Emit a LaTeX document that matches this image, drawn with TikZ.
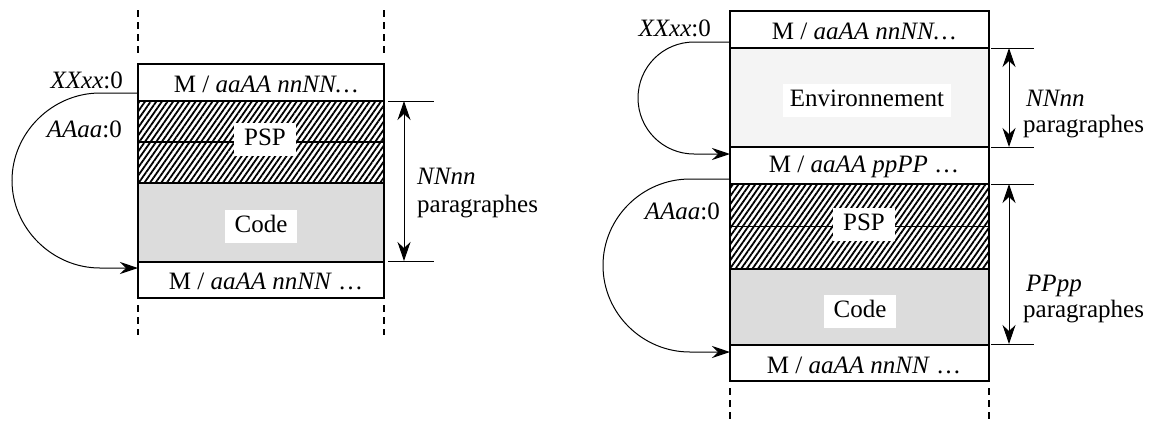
\documentclass[tikz,border=0pt]{standalone}
\usepackage{fontspec}
\setmainfont{Liberation Serif}
\usetikzlibrary{patterns.meta,arrows.meta}
\definecolor{codegray}{HTML}{DCDCDC}
\definecolor{envgray}{HTML}{F4F4F4}
\tikzset{
  region/.style={draw, line width=1.3pt, inner sep=0pt, anchor=center},
  hatch/.style={pattern={Lines[angle=55,distance=4.6pt,line width=1.8pt]}},
  tag/.style={fill=white, inner xsep=10pt, inner ysep=6pt, text height=17pt, text depth=4pt},
  txt/.style={inner sep=0pt},
  guide/.style={line width=1.2pt, dash pattern=on 7pt off 5pt},
  dimline/.style={line width=1pt},
  dimarrow/.style={line width=1pt, {Stealth[length=19pt,width=13pt,inset=6pt]}-{Stealth[length=19pt,width=13pt,inset=6pt]}},
  jump/.style={line width=1pt, -{Stealth[length=18pt,width=12pt,inset=6pt]}},
  every node/.append style={font=\fontsize{25}{30}\selectfont}
}
\begin{document}
\begin{tikzpicture}[x=1pt,y=-1pt]
\useasboundingbox (0,0) rectangle (1153,421);

% ---------------- Left diagram ----------------
\node[region, minimum width=246pt, minimum height=37pt] (Lm1) at (261,82.5) {};
\node[txt] (Lm1t) at (266,84) {M / \textit{aaAA nnNN…}};
\node[region, hatch, minimum width=246pt, minimum height=82pt] (Lpsp) at (261,142) {};
\node[region, fill=codegray, minimum width=246pt, minimum height=79pt] (Lcode) at (261,222.5) {};
\node[region, minimum width=246pt, minimum height=36pt] (Lm2) at (261,280) {};
\node[txt] (Lm2t) at (266,281) {M / \textit{aaAA nnNN} …};
\draw[line width=1.2pt] (Lpsp.west) -- (Lpsp.east);
\node[tag] (Lpspt) at (265,139) {PSP};
\node[tag] (Lcodet) at (261,226) {Code};

% guides
\coordinate (Lg1a) at (138,10);  \coordinate (Lg1b) at (138,55);
\coordinate (Lg2a) at (384,10);  \coordinate (Lg2b) at (384,55);
\coordinate (Lg3a) at (138,305); \coordinate (Lg3b) at (138,335);
\coordinate (Lg4a) at (384,305); \coordinate (Lg4b) at (384,335);
\draw[guide] (Lg1a) -- (Lg1b);
\draw[guide] (Lg2a) -- (Lg2b);
\draw[guide] (Lg3a) -- (Lg3b);
\draw[guide] (Lg4a) -- (Lg4b);

% dimension
\coordinate (Ld1a) at (388,101); \coordinate (Ld1b) at (434,101);
\coordinate (Ld2a) at (388,261); \coordinate (Ld2b) at (434,261);
\draw[dimline] (Ld1a) -- (Ld1b);
\draw[dimline] (Ld2a) -- (Ld2b);
\coordinate (Lda) at (404,101); \coordinate (Ldb) at (404,261);
\draw[dimarrow] (Lda) -- (Ldb);
\node[txt, anchor=base west] (Ln1) at (417,184) {\textit{NNnn}};
\node[txt, anchor=base west] (Ln2) at (417,212) {paragraphes};

% jump
\coordinate (Lja) at (138,93); \coordinate (Ljb) at (138,268);
\draw[jump] (Lja) -- (100,93) .. controls (52,93) and (12,133) .. (12,180.5)
  .. controls (12,228) and (52,268) .. (100,268) -- (Ljb);
\node[txt, anchor=base east] (Lx) at (123,88) {\textit{XXxx}:0};
\node[txt, anchor=base east] (La) at (122,137) {\textit{AAaa}:0};

% ---------------- Right diagram ----------------
\node[region, minimum width=259pt, minimum height=37pt] (Rm1) at (859.5,29.5) {};
\node[txt] (Rm1t) at (864,31) {M / \textit{aaAA nnNN…}};
\node[region, fill=envgray, minimum width=259pt, minimum height=99pt] (Renv) at (859.5,97.5) {};
\node[tag, inner xsep=7pt] (Renvt) at (867,100) {Environnement};
\node[region, minimum width=259pt, minimum height=37pt] (Rm2) at (859.5,165.5) {};
\node[txt] (Rm2t) at (864,167) {M / \textit{aaAA ppPP} …};
\node[region, hatch, minimum width=259pt, minimum height=85pt] (Rpsp) at (859.5,226.5) {};
\draw[line width=1.2pt] (Rpsp.west) -- (Rpsp.east);
\node[tag] (Rpspt) at (864,224) {PSP};
\node[region, fill=codegray, minimum width=259pt, minimum height=76pt] (Rcode) at (859.5,307) {};
\node[tag] (Rcodet) at (860,311) {Code};
\node[region, minimum width=259pt, minimum height=36pt] (Rm3) at (859.5,363) {};
\node[txt] (Rm3t) at (864,365) {M / \textit{aaAA nnNN} …};

% guides
\coordinate (Rg1a) at (730,388); \coordinate (Rg1b) at (730,421);
\coordinate (Rg2a) at (989,388); \coordinate (Rg2b) at (989,421);
\draw[guide] (Rg1a) -- (Rg1b);
\draw[guide] (Rg2a) -- (Rg2b);

% dimensions
\coordinate (Rd1a) at (991,48);  \coordinate (Rd1b) at (1034,48);
\coordinate (Rd2a) at (991,147); \coordinate (Rd2b) at (1034,147);
\coordinate (Rd3a) at (991,184); \coordinate (Rd3b) at (1034,184);
\coordinate (Rd4a) at (991,344); \coordinate (Rd4b) at (1034,344);
\draw[dimline] (Rd1a) -- (Rd1b);
\draw[dimline] (Rd2a) -- (Rd2b);
\draw[dimline] (Rd3a) -- (Rd3b);
\draw[dimline] (Rd4a) -- (Rd4b);
\coordinate (Rda) at (1009,48);  \coordinate (Rdb) at (1009,147);
\coordinate (Rdc) at (1009,184); \coordinate (Rdd) at (1009,344);
\draw[dimarrow] (Rda) -- (Rdb);
\draw[dimarrow] (Rdc) -- (Rdd);
\node[txt, anchor=base west] (Rn1) at (1026,106) {\textit{NNnn}};
\node[txt, anchor=base west] (Rn2) at (1023,132) {paragraphes};
\node[txt, anchor=base west] (Rp1) at (1026,291) {\textit{PPpp}};
\node[txt, anchor=base west] (Rp2) at (1023,317) {paragraphes};

% jumps
\coordinate (Rj1a) at (730,42);  \coordinate (Rj1b) at (730,154);
\draw[jump] (Rj1a) -- (694,42) .. controls (663,42) and (638,67) .. (638,98)
  .. controls (638,129) and (663,154) .. (694,154) -- (Rj1b);
\coordinate (Rj2a) at (730,179); \coordinate (Rj2b) at (730,352);
\draw[jump] (Rj2a) -- (690,179) .. controls (642,179) and (603,218) .. (603,265.5)
  .. controls (603,313) and (642,352) .. (690,352) -- (Rj2b);
\node[txt, anchor=base east] (Rx) at (711,36) {\textit{XXxx}:0};
\node[txt, anchor=base east] (Ra) at (720,219) {\textit{AAaa}:0};
\end{tikzpicture}
\end{document}
